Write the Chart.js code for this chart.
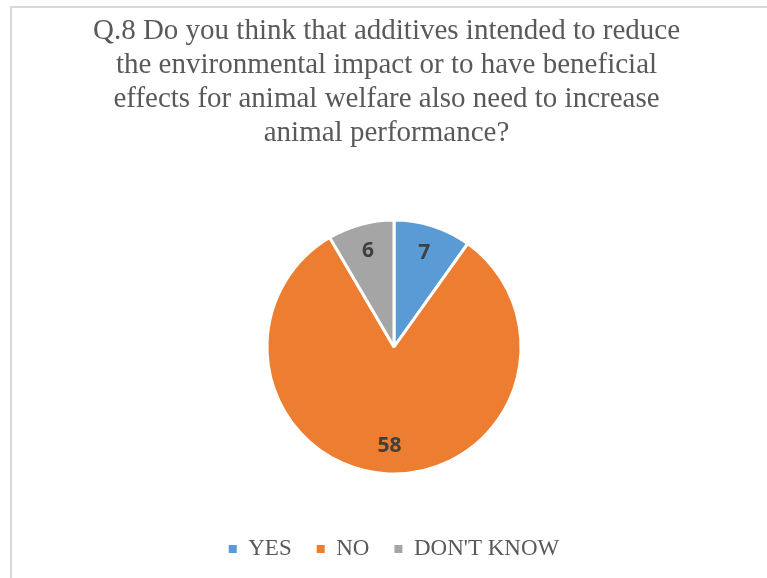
<!DOCTYPE html>
<html>
<head>
<meta charset="utf-8">
<script src="https://cdn.jsdelivr.net/npm/chart.js@4/dist/chart.umd.min.js"></script>
<style>
  html, body { margin: 0; padding: 0; background: #fff; overflow: hidden; }
  #box {
    position: absolute; left: 10px; top: 6px;
    width: 780px; height: 600px;
    border-top: 2px solid #d9d9d9; border-left: 2px solid #d9d9d9;
  }
  #title {
    position: absolute; left: 0; top: 12px; width: 773px;
    text-align: center; color: #595959;
    font-family: "Liberation Serif", "Times New Roman", serif;
    font-size: 29px; line-height: 34px;
  }
  #wrap { position: absolute; left: 0; top: 0; width: 767px; height: 578px; }
</style>
</head>
<body>
<div id="box"></div>
<div id="wrap"><canvas id="chart"></canvas></div>
<div id="title"></div>
<script>
// chart data
const titleLines = [
    'Q.8 Do you think that additives intended to reduce',
    'the environmental impact or to have beneficial',
    'effects for animal welfare also need to increase',
    'animal performance?'
];
const categories = ['YES', 'NO', "DON'T KNOW"];
const answers = [7, 58, 6];
const sliceColors = ['#5B9BD5', '#ED7D31', '#A5A5A5'];

// title as plain text lines
let titleArea = document.getElementById('title');
for (let i = 0; i < titleLines.length; i++) {
    let line = document.createElement('div');
    line.textContent = titleLines[i];
    titleArea.appendChild(line);
}

// draws the value inside every slice, like the excel data labels
const sliceLabels = {
    id: 'sliceLabels',
    afterDatasetsDraw(chart) {
        const ctx = chart.ctx;
        const meta = chart.getDatasetMeta(0);
        ctx.save();
        ctx.font = 'bold 21px "Open Sans", "Liberation Sans", sans-serif';
        ctx.fillStyle = '#404040';
        ctx.textAlign = 'center';
        ctx.textBaseline = 'middle';
        meta.data.forEach((arc, i) => {
            let mid = (arc.startAngle + arc.endAngle) / 2;
            let r = arc.outerRadius * 0.78;
            ctx.fillText(String(answers[i]), arc.x + Math.cos(mid) * r, arc.y + Math.sin(mid) * r);
        });
        ctx.restore();
    }
};

let ctx = document.getElementById('chart');

let chartData = {
    labels: categories,
    datasets: [{
        data: answers,
        backgroundColor: sliceColors,
        borderColor: '#ffffff',
        borderWidth: 3
    }]
};

let chartConfig = {
    type: 'pie',
    data: chartData,
    options: {
        responsive: true,
        maintainAspectRatio: false,
        animation: false,
        radius: 127,
        layout: { padding: { left: 21, right: 0, top: 181.5, bottom: 7.5 } },
        plugins: {
            title: { display: false },
            legend: {
                position: 'bottom',
                labels: {
                    boxWidth: 8,
                    boxHeight: 8,
                    padding: 25,
                    color: '#595959',
                    font: { family: '"Liberation Serif", "Times New Roman", serif', size: 23 },
                    // no white slice border on the legend squares
                    generateLabels(chart) {
                        let items = Chart.controllers.pie.overrides.plugins.legend.labels.generateLabels(chart);
                        items.forEach(item => { item.lineWidth = 0; });
                        return items;
                    }
                }
            },
            tooltip: { enabled: false }
        }
    },
    plugins: [sliceLabels]
};

let pieChart = new Chart(ctx, chartConfig);
</script>
</body>
</html>
